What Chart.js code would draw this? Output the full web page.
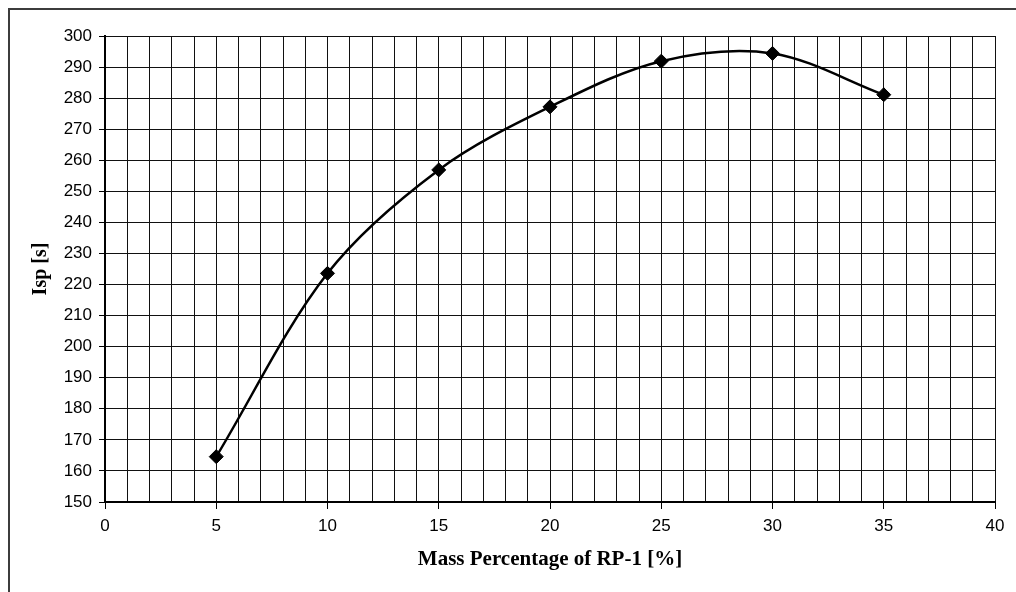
<!DOCTYPE html>
<html>
<head>
<meta charset="utf-8">
<script src="https://cdn.jsdelivr.net/npm/chart.js@4.4.1/dist/chart.umd.min.js"></script>
<style>
  html, body { margin: 0; padding: 0; background: #fff; }
  #wrap { width: 1016px; height: 592px; position: relative; }
</style>
</head>
<body>
<div id="wrap"><canvas id="c" width="1016" height="592"></canvas></div>
<script>
const massPercent = [5, 10, 15, 20, 25, 30, 35];
const ispValues = [164.6, 223.6, 256.9, 277.2, 291.9, 294.4, 281.1];
const xTitle = 'Mass Percentage of RP-1 [%]';
const yTitle = 'Isp [s]';
const xMin = 0, xMax = 40, xStep = 1, xLabelEvery = 5;
const yMin = 150, yMax = 300, yStep = 10;

const outerBorder = {
  id: 'outerBorder',
  afterDraw(chart) {
    const ctx = chart.ctx;
    ctx.save();
    ctx.strokeStyle = '#3c3c3c';
    ctx.lineWidth = 2;
    ctx.beginPath();
    ctx.moveTo(9, 592);
    ctx.lineTo(9, 9);
    ctx.lineTo(1016, 9);
    ctx.stroke();
    ctx.restore();
  }
};

new Chart(document.getElementById('c'), {
  type: 'line',
  data: {
    datasets: [{
      data: massPercent.map((x, i) => ({ x: x, y: ispValues[i] })),
      borderColor: '#000',
      backgroundColor: '#000',
      borderWidth: 2.5,
      tension: 0.33,
      pointStyle: 'rectRot',
      pointRadius: 7,
      pointBorderWidth: 1,
      pointBorderColor: '#000',
      pointBackgroundColor: '#000',
      fill: false
    }]
  },
  options: {
    responsive: false,
    animation: false,
    devicePixelRatio: 1,
    layout: { padding: { left: 9, top: 36, right: 21, bottom: 10 } },
    plugins: { legend: { display: false }, tooltip: { enabled: false } },
    scales: {
      x: {
        type: 'linear',
        min: xMin, max: xMax,
        afterFit(s) { s.height = 80; },
        ticks: {
          stepSize: xStep,
          autoSkip: false,
          maxRotation: 0,
          color: '#000',
          padding: 7,
          font: { family: 'Liberation Sans', size: 17 },
          callback: v => (v % xLabelEvery === 0 ? String(v) : '')
        },
        grid: {
          color: '#111',
          lineWidth: 1,
          tickLength: 7,
          tickColor: c => (c.tick && c.tick.value % xLabelEvery === 0 ? '#000' : 'rgba(0,0,0,0)')
        },
        border: { color: '#000', width: 2 },
        title: {
          display: true,
          text: xTitle,
          color: '#000',
          font: { family: 'Liberation Serif', size: 21, weight: 'bold' },
          padding: { top: 0, bottom: 10 }
        }
      },
      y: {
        min: yMin, max: yMax,
        afterFit(s) { s.width = 96; },
        ticks: {
          stepSize: yStep,
          color: '#000',
          padding: 7,
          font: { family: 'Liberation Sans', size: 17 }
        },
        grid: { color: '#111', lineWidth: 1, tickLength: 6, tickColor: '#000' },
        border: { color: '#000', width: 2 },
        title: {
          display: true,
          text: yTitle,
          color: '#000',
          font: { family: 'Liberation Serif', size: 20, weight: 'bold' },
          padding: { top: 20, bottom: 0 }
        }
      }
    }
  },
  plugins: [outerBorder]
});
</script>
</body>
</html>
